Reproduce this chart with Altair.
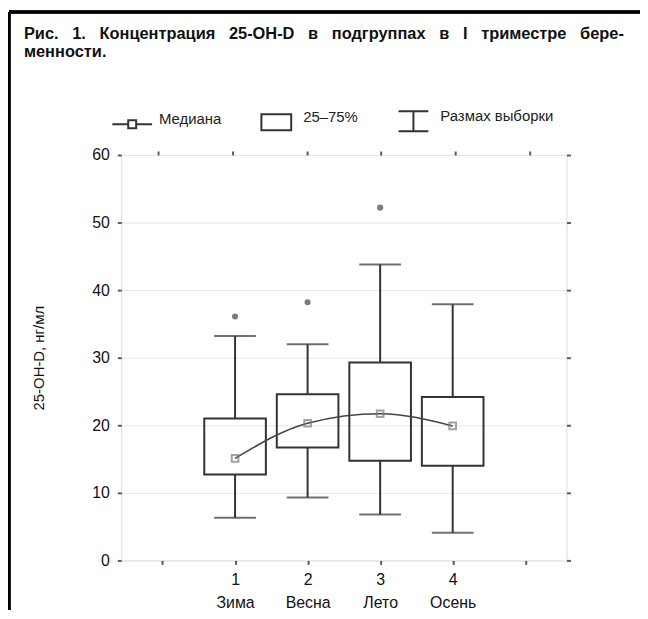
import altair as alt
import pandas as pd

# ---- data ----
groups = [1, 2, 3, 4]
seasons = ["Зима", "Весна", "Лето", "Осень"]
wmin = [6.3, 9.3, 6.8, 4.1]
q1 = [12.7, 16.7, 14.75, 14.0]
med = [15.1, 20.3, 21.7, 19.9]
q3 = [21.0, 24.6, 29.3, 24.2]
wmax = [33.2, 32.0, 43.8, 37.9]
out_groups = [1, 2, 3]
out_vals = [36.1, 38.2, 52.2]
y_ticks = [0, 10, 20, 30, 40, 50, 60]
x_ticks = [0, 1, 2, 3, 4, 5]
legend_names = ["Медиана", "25–75%", "Размах выборки"]
title_lines = ["Рис. 1. Концентрация 25-OH-D в подгруппах в I триместре бере-",
               "менности."]
y_title = "25-OH-D, нг/мл"

df = pd.DataFrame({"g": groups, "season": seasons, "wmin": wmin, "q1": q1,
                   "med": med, "q3": q3, "wmax": wmax})
df_out = pd.DataFrame({"g": out_groups, "v": out_vals})

# ---- styling ----
NARROW = "Liberation Sans, Arial, sans-serif"
BOLD = "Liberation Sans, Arial, sans-serif"
DARK = "#333333"
FRAME = "#5a5a5a"
W, H = 448, 408
PAD = {"left": 114, "top": 146, "right": 74, "bottom": 50}

# justified first title line: widen the word gaps (non-breaking spaces)
JUST = " \u00a0\u00a0"
title_text = [title_lines[0].replace(" ", JUST), title_lines[1]]

label_expr = " : ".join(
    f"datum.value == {g} ? ['{g}', '{s}']" for g, s in zip(groups, seasons)
) + " : ''"

xscale = alt.Scale(domain=[-0.5, 5.5], nice=False, zero=False)
yscale = alt.Scale(domain=[0, 60], nice=False)

xaxis = alt.Axis(values=x_ticks, labelExpr=label_expr, grid=False, domain=False,
                 tickSize=4, tickColor=FRAME, tickWidth=2, labelFont=NARROW,
                 labelFontSize=16, labelColor="#111", labelLineHeight=23,
                 labelPadding=7, labelAngle=0)
yaxis = alt.Axis(values=y_ticks, grid=True, gridColor="#e6e6e6", domain=False,
                 tickSize=4, tickColor=FRAME, tickWidth=2, labelFont=NARROW,
                 labelFontSize=16, labelColor="#111", labelPadding=8,
                 titleFont=NARROW, titleFontSize=15, titleFontWeight="normal",
                 titleColor="#111", titlePadding=45)

X = alt.X("g:Q", scale=xscale, axis=xaxis, title=None)


def Y(field):
    return alt.Y(f"{field}:Q", scale=yscale, axis=yaxis, title=y_title)


base = alt.Chart(df)

lower = base.mark_rule(color=DARK, strokeWidth=2).encode(x=X, y=Y("wmin"), y2="q1:Q")
upper = base.mark_rule(color=DARK, strokeWidth=2).encode(x=X, y=Y("q3"), y2="wmax:Q")
cap_lo = base.mark_tick(orient="horizontal", size=42, thickness=2, color=DARK).encode(x=X, y=Y("wmin"))
cap_hi = base.mark_tick(orient="horizontal", size=42, thickness=2, color=DARK).encode(x=X, y=Y("wmax"))
box = base.mark_bar(size=62, fill="white", fillOpacity=0, stroke=DARK,
                    strokeWidth=2).encode(x=X, y=Y("q1"), y2="q3:Q")
med_line = base.mark_line(interpolate="monotone", color="#444444",
                          strokeWidth=1.6).encode(x=X, y=Y("med"))
med_pts = base.mark_point(shape="square", filled=False, size=45, color="#7a7a7a",
                          strokeWidth=2).encode(x=X, y=Y("med"))
outliers = alt.Chart(df_out).mark_circle(size=38, color="#7d7d7d", opacity=1).encode(
    x=X, y=Y("v"))

inner = alt.layer(lower, upper, cap_lo, cap_hi, box, med_line, med_pts, outliers)

# top / right ticks of the frame
axes_tr = base.mark_point(opacity=0).encode(
    x=alt.X("g:Q", scale=xscale, title=None,
            axis=alt.Axis(orient="top", values=x_ticks, labels=False, grid=False,
                          domain=False, tickSize=4, tickColor=FRAME, tickWidth=2)),
    y=alt.Y("med:Q", scale=yscale, title=None,
            axis=alt.Axis(orient="right", values=y_ticks, labels=False, grid=False,
                          domain=False, tickSize=4, tickColor=FRAME, tickWidth=2)),
)

# legend
shape_paths = [
    "M-1,0H-0.2M0.2,0H1M-0.2,-0.2H0.2V0.2H-0.2Z",
    "M-0.75,-0.4H0.75V0.4H-0.75Z",
    "M-0.75,-0.5H0.75M0,-0.5V0.5M-0.75,0.5H0.75",
]
leg_df = pd.DataFrame({"item": legend_names})
legend_layer = alt.Chart(leg_df).mark_point(filled=False, color=DARK, strokeWidth=2,
                                            opacity=0).encode(
    x=alt.value(0), y=alt.value(0),
    shape=alt.Shape("item:N", scale=alt.Scale(domain=legend_names, range=shape_paths),
                    legend=alt.Legend(title=None, orient="none", legendX=-10,
                                      legendY=-55, direction="horizontal",
                                      symbolSize=1600, symbolStrokeWidth=2,
                                      symbolStrokeColor=DARK, symbolOpacity=1,
                                      symbolFillColor="transparent",
                                      labelFont=NARROW, labelFontSize=15,
                                      labelColor="#222", labelOffset=6,
                                      columnPadding=34, labelBaseline="alphabetic")),
)

# page frame (thick black border on the left and top)
frame_left = alt.Chart(leg_df).mark_rule(color="black", strokeWidth=3).encode(
    x=alt.value(-113), y=alt.value(-144), y2=alt.value(H + PAD["bottom"]))
frame_top = alt.Chart(leg_df).mark_rule(color="black", strokeWidth=3).encode(
    x=alt.value(-113), x2=alt.value(W + PAD["right"]), y=alt.value(-144))

chart = alt.layer(inner, axes_tr, legend_layer, frame_left, frame_top).resolve_scale(
    x="independent", y="independent"
).properties(
    width=W, height=H,
    autosize=alt.AutoSizeParams(type="none"),
    padding=PAD,
    title=alt.TitleParams(text=title_text, anchor="start", frame="group", dx=-98,
                          offset=-50, font=BOLD, fontSize=16.5, fontWeight="bold",
                          lineHeight=18, color="#111"),
).configure_view(stroke=FRAME, strokeWidth=2.5).configure(background="white")

chart.save("out.html", embed_options={"renderer": "svg", "actions": False})
